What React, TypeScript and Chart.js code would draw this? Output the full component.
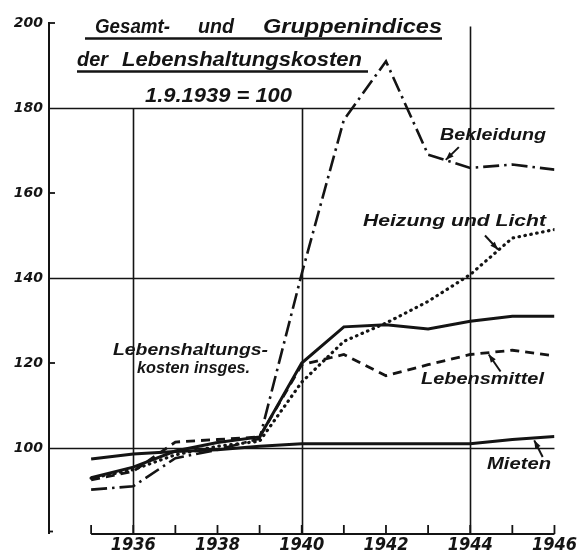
import { useEffect, useRef } from 'react';
import { Chart, registerables } from 'chart.js';

Chart.register(...registerables);

// ---------- data ----------
const years = [1935, 1936, 1937, 1938, 1939, 1940, 1941, 1942, 1943, 1944, 1945, 1946];
const insgesamt = [93.0, 95.5, 99.3, 101.3, 102.6, 120.0, 128.5, 129.0, 128.0, 129.8, 131.0, 131.0];
const lebensmittel = [92.5, 94.5, 101.4, 102.0, 102.6, 119.6, 122.0, 117.0, 119.6, 122.0, 123.0, 121.7];
const heizungLicht = [92.9, 94.9, 98.4, 100.4, 101.6, 115.5, 125.1, 129.4, 134.5, 140.8, 149.4, 151.4];
const bekleidung = [90.2, 91.0, 97.6, 99.6, 102.2, 141.0, 177.2, 191.0, 169.0, 165.9, 166.7, 165.5];
const mieten = [97.4, 98.6, 99.2, 99.6, 100.4, 101.0, 101.0, 101.0, 101.0, 101.0, 102.0, 102.7];

const xTickLabels = [1936, 1938, 1940, 1942, 1944, 1946];
const yTickLabels = [100, 120, 140, 160, 180, 200];
const yGridValues = [100, 140, 180];
const xGridYears = [1936, 1940, 1944];
const yMinorTicks = [200, 160, 120];

const titleLine1 = ['Gesamt-', 'und', 'Gruppenindices'];
const titleLine2 = ['der', 'Lebenshaltungskosten'];
const titleLine3 = '1.9.1939 = 100';

const INK = '#141414';
const SANS = '"Liberation Sans", "DejaVu Sans", sans-serif';

function fitText(ctx: CanvasRenderingContext2D, text: string, x: number, y: number, w: number, font: string) {
  ctx.font = font;
  const m = ctx.measureText(text).width;
  ctx.save();
  ctx.translate(x, y);
  ctx.scale(w / m, 1);
  ctx.textAlign = 'left';
  ctx.textBaseline = 'alphabetic';
  ctx.fillText(text, 0, 0);
  ctx.restore();
}

function arrow(ctx: CanvasRenderingContext2D, x1: number, y1: number, x2: number, y2: number) {
  const a = Math.atan2(y2 - y1, x2 - x1);
  ctx.lineWidth = 2;
  ctx.beginPath();
  ctx.moveTo(x1, y1);
  ctx.lineTo(x2, y2);
  ctx.stroke();
  const L = 8, W = 3;
  ctx.beginPath();
  ctx.moveTo(x2, y2);
  ctx.lineTo(x2 - L * Math.cos(a) + W * Math.sin(a), y2 - L * Math.sin(a) - W * Math.cos(a));
  ctx.lineTo(x2 - L * Math.cos(a) - W * Math.sin(a), y2 - L * Math.sin(a) + W * Math.cos(a));
  ctx.closePath();
  ctx.fill();
}

const decor = {
  id: 'decor',
  beforeDatasetsDraw(chart: any) {
    const { ctx, scales } = chart;
    const x = scales.x, y = scales.y;
    ctx.save();
    ctx.strokeStyle = INK;
    ctx.fillStyle = INK;
    ctx.lineCap = 'butt';
    // horizontal grid lines
    ctx.lineWidth = 1.6;
    for (const v of yGridValues) {
      const py = Math.round(y.getPixelForValue(v)) + 0.5;
      ctx.beginPath();
      ctx.moveTo(x.getPixelForValue(1934), py);
      ctx.lineTo(x.getPixelForValue(1946), py);
      ctx.stroke();
    }
    // vertical grid lines
    for (const yr of xGridYears) {
      const px = Math.round(x.getPixelForValue(yr)) + 0.5;
      const topVal = yr === 1944 ? 199.2 : 180;
      ctx.beginPath();
      ctx.moveTo(px, y.getPixelForValue(topVal));
      ctx.lineTo(px, y.getPixelForValue(80));
      ctx.stroke();
    }
    // x axis line from 1935 to 1946
    const axisY = y.getPixelForValue(80) + 1;
    ctx.lineWidth = 2.2;
    ctx.beginPath();
    ctx.moveTo(x.getPixelForValue(1935), axisY);
    ctx.lineTo(x.getPixelForValue(1946), axisY);
    ctx.stroke();
    ctx.lineWidth = 1.8;
    for (const yr of years) {
      const px = x.getPixelForValue(yr);
      ctx.beginPath();
      ctx.moveTo(px, axisY);
      ctx.lineTo(px, axisY - 9);
      ctx.stroke();
    }
    // y minor ticks
    ctx.lineWidth = 1.8;
    for (const v of yMinorTicks) {
      const py = y.getPixelForValue(v);
      ctx.beginPath();
      ctx.moveTo(x.getPixelForValue(1934), py);
      ctx.lineTo(x.getPixelForValue(1934) + 6, py);
      ctx.stroke();
    }
    // small hook at bottom of y axis
    ctx.beginPath();
    ctx.moveTo(x.getPixelForValue(1934), y.getPixelForValue(80) - 1.5);
    ctx.lineTo(x.getPixelForValue(1934) + 4, y.getPixelForValue(80) - 1.5);
    ctx.stroke();
    ctx.restore();
  },
  afterDatasetsDraw(chart: any) {
    const { ctx, scales } = chart;
    const x = scales.x, y = scales.y;
    const P = (xv: number, yv: number) => [x.getPixelForValue(xv), y.getPixelForValue(yv)];
    ctx.save();
    ctx.fillStyle = INK;
    ctx.strokeStyle = INK;
    const tf = `italic bold 21px ${SANS}`;
    // title
    fitText(ctx, titleLine1[0], 95, 33, 75, tf);
    fitText(ctx, titleLine1[1], 198, 33, 36, tf);
    fitText(ctx, titleLine1[2], 263, 33, 179, tf);
    fitText(ctx, titleLine2[0], 77, 66, 31, tf);
    fitText(ctx, titleLine2[1], 122, 66, 240, tf);
    fitText(ctx, titleLine3, 145, 102, 147, tf);
    ctx.lineWidth = 2.6;
    ctx.beginPath();
    ctx.moveTo(85, 38.5); ctx.lineTo(442, 38.5);
    ctx.moveTo(77, 71.5); ctx.lineTo(368, 71.5);
    ctx.stroke();

    // labels
    const lf = `italic bold 17px ${SANS}`;
    fitText(ctx, 'Bekleidung', 440, 140, 106, lf);
    fitText(ctx, 'Heizung und Licht', 363, 226, 183, lf);
    fitText(ctx, 'Lebenshaltungs-', 113, 355, 155, lf);
    fitText(ctx, 'kosten insges.', 137, 373, 113, lf);
    fitText(ctx, 'Lebensmittel', 421, 384, 123, lf);
    fitText(ctx, 'Mieten', 487, 469, 64, lf);

    // arrows (tail -> tip on the curve)
    const arrows: [number, number, number, number][] = [
      [1943.73, 170.8, 1943.42, 167.8],
      [1944.35, 150.0, 1944.66, 146.7],
      [1944.72, 118.0, 1944.44, 122.0],
      [1945.72, 97.9, 1945.52, 101.8],
    ];
    for (const [a, b, c, d] of arrows) {
      const [x1, y1] = P(a, b);
      const [x2, y2] = P(c, d);
      arrow(ctx, x1, y1, x2, y2);
    }
    ctx.restore();
  },
};

const toPts = (s: number[]) => years.map((yr, i) => ({ x: yr, y: s[i] }));

export default function App() {
  const ref = useRef<HTMLCanvasElement | null>(null);
  useEffect(() => {
    if (!ref.current) return;
    const chart = new Chart(ref.current, {
      type: 'line',
      data: {
        datasets: [
          { label: 'Bekleidung', data: toPts(bekleidung), borderColor: INK, borderWidth: 2.6, borderDash: [16, 5, 2.5, 5], pointRadius: 0, tension: 0, fill: false },
          { label: 'Heizung und Licht', data: toPts(heizungLicht), borderColor: INK, borderWidth: 3.2, borderDash: [0.5, 5.5], borderCapStyle: 'round', pointRadius: 0, tension: 0, fill: false },
          { label: 'Lebensmittel', data: toPts(lebensmittel), borderColor: INK, borderWidth: 2.8, borderDash: [9, 6], pointRadius: 0, tension: 0, fill: false },
          { label: 'Lebenshaltungskosten insges.', data: toPts(insgesamt), borderColor: INK, borderWidth: 3, pointRadius: 0, tension: 0, fill: false },
          { label: 'Mieten', data: toPts(mieten), borderColor: INK, borderWidth: 3, pointRadius: 0, tension: 0, fill: false },
        ],
      },
      options: {
        responsive: false,
        animation: false,
        layout: { padding: { top: 23, right: 22, left: 0, bottom: 0 } },
        plugins: { legend: { display: false }, tooltip: { enabled: false }, title: { display: false } },
        scales: {
          x: {
            type: 'linear',
            min: 1934,
            max: 1946,
            grid: { display: false, drawTicks: false },
            border: { display: false },
            ticks: {
              stepSize: 1,
              autoSkip: false,
              maxRotation: 0,
              padding: 2,
              color: INK,
              font: { family: '"Liberation Sans Narrow", "DejaVu Sans Condensed", "Liberation Sans", sans-serif', size: 18, style: 'italic', weight: 'bold' },
              callback: (v: any) => (xTickLabels.includes(Number(v)) ? String(v) : ''),
            },
            afterFit: (s: any) => { s.height = 20; },
          },
          y: {
            type: 'linear',
            min: 80,
            max: 200,
            grid: { display: false, drawTicks: false },
            border: { display: true, width: 2, color: INK },
            ticks: {
              stepSize: 20,
              padding: 6,
              color: INK,
              font: { family: '"DejaVu Sans", sans-serif', size: 14, style: 'italic', weight: 'bold' },
              callback: (v: any) => (yTickLabels.includes(Number(v)) ? String(v) : ''),
            },
            afterFit: (s: any) => { s.width = 49; },
          },
        },
      },
      plugins: [decor],
    } as any);
    return () => chart.destroy();
  }, []);
  return (
    <div style={{ position: 'fixed', left: 0, top: 0, width: 579, height: 553, background: '#fff' }}>
      <canvas ref={ref} width={579} height={553} style={{ display: 'block' }} />
    </div>
  );
}
